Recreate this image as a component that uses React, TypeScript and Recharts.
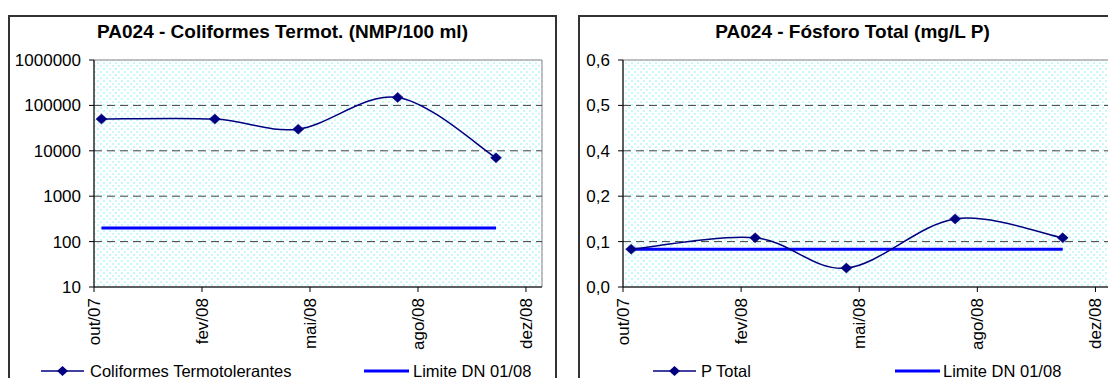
import React from 'react';
import { LineChart, Line, XAxis, YAxis, ReferenceLine, ReferenceArea, Legend } from 'recharts';

// ---------- data ----------
const sampleDates = ['2007-11-02', '2008-02-16', '2008-05-04', '2008-08-05', '2008-11-05'];
const xTickDates = ['2007-10-26', '2008-02-04', '2008-05-15', '2008-08-24', '2008-12-03'];
const xTickLabels = ['out/07', 'fev/08', 'mai/08', 'ago/08', 'dez/08'];
const xAxisEnd = '2008-12-18';

const coliformes = [50000, 50000, 30000, 150000, 7000];
const coliformesLimite = [200, 200, 200, 200, 200];
const coliTicks = [10, 100, 1000, 10000, 100000, 1000000];

const fosforo = [0.1, 0.13, 0.05, 0.18, 0.13];
const fosforoLimite = [0.1, 0.1, 0.1, 0.1, 0.1];
const fosTicks = [0, 0.12, 0.24, 0.36, 0.48, 0.6];

const coliTitle = 'PA024 - Coliformes Termot. (NMP/100 ml)';
const fosTitle = 'PA024 - Fósforo Total (mg/L P)';
const coliSeriesName = 'Coliformes Termotolerantes';
const fosSeriesName = 'P Total';
const limitName = 'Limite DN 01/08';

// ---------- derived ----------
const xTickTimes = xTickDates.map((d) => Date.parse(d));
const xDomain = [xTickTimes[0], Date.parse(xAxisEnd)];
const coliData = sampleDates.map((d, i) => ({ t: Date.parse(d), value: coliformes[i], limite: coliformesLimite[i] }));
const fosData = sampleDates.map((d, i) => ({ t: Date.parse(d), value: fosforo[i], limite: fosforoLimite[i] }));

const FONT = '"Liberation Sans", Arial, sans-serif';
const NAVY = '#000080';
const BLUE = '#0000FF';
const TICK_FS = 17;

// Excel-like smoothed line (Catmull-Rom as cubic Bezier)
const excelCurve: any = (context: any) => {
  let pts: number[][] = [];
  return {
    areaStart() {},
    areaEnd() {},
    lineStart() {
      pts = [];
    },
    point(x: number, y: number) {
      pts.push([+x, +y]);
    },
    lineEnd() {
      const n = pts.length;
      if (!n) return;
      context.moveTo(pts[0][0], pts[0][1]);
      for (let i = 0; i < n - 1; i++) {
        const a = pts[Math.max(0, i - 1)];
        const b = pts[i];
        const c = pts[i + 1];
        const d = pts[Math.min(n - 1, i + 2)];
        context.bezierCurveTo(
          b[0] + (c[0] - a[0]) / 6,
          b[1] + (c[1] - a[1]) / 6,
          c[0] - (d[0] - b[0]) / 6,
          c[1] - (d[1] - b[1]) / 6,
          c[0],
          c[1]
        );
      }
    },
  };
};

const Diamond = (props: any) => {
  const { cx, cy } = props;
  if (cx == null || cy == null) return null;
  return (
    <path
      d={`M${cx},${cy - 5}L${cx + 5.5},${cy}L${cx},${cy + 5}L${cx - 5.5},${cy}Z`}
      fill={NAVY}
      stroke={NAVY}
      strokeWidth={0.5}
    />
  );
};

const DateTick = (props: any) => {
  const { x, y, payload } = props;
  const idx = xTickTimes.indexOf(payload.value);
  const label = idx >= 0 ? xTickLabels[idx] : '';
  return (
    <text
      x={x}
      y={y}
      transform={`rotate(-90, ${x}, ${y})`}
      textAnchor="end"
      dy="0.35em"
      fontSize={TICK_FS}
      fontFamily={FONT}
      fill="#000"
    >
      {label}
    </text>
  );
};

const makeLegend = (name1: string, pos: { l1: number; t1: number; l2: number; t2: number }) => () => (
  <svg width={545} height={20} style={{ display: 'block' }}>
    <line x1={pos.l1} x2={pos.l1 + 43} y1={9} y2={9} stroke={NAVY} strokeWidth={1.5} />
    <path
      d={`M${pos.l1 + 21.5},4L${pos.l1 + 27},9L${pos.l1 + 21.5},14L${pos.l1 + 16},9Z`}
      fill={NAVY}
    />
    <text x={pos.t1} y={14.5} fontSize={16.5} fontFamily={FONT} fill="#000">
      {name1}
    </text>
    <line x1={pos.l2} x2={pos.l2 + 45} y1={9} y2={9} stroke={BLUE} strokeWidth={3} />
    <text x={pos.t2} y={14.5} fontSize={16.5} fontFamily={FONT} fill="#000">
      {limitName}
    </text>
  </svg>
);

const boxStyle: React.CSSProperties = {
  position: 'absolute',
  top: 7,
  width: 549,
  height: 420,
  border: '2px solid #333',
  boxSizing: 'border-box',
  background: '#fff',
};

const titleStyle: React.CSSProperties = {
  position: 'absolute',
  top: 4,
  left: 0,
  width: 545,
  textAlign: 'center',
  fontFamily: FONT,
  fontWeight: 'bold',
  fontSize: 19,
  lineHeight: 'normal',
  color: '#000',
  whiteSpace: 'nowrap',
};

const tickStyle = { fontSize: TICK_FS, fill: '#000', fontFamily: FONT };

export default function App() {
  return (
    <div
      style={{
        position: 'relative',
        width: 1108,
        height: 370,
        overflow: 'hidden',
        background: '#fff',
        fontFamily: FONT,
      }}
    >
      <svg width={0} height={0} style={{ position: 'absolute' }}>
        <defs>
          <pattern id="excelDots" width={6} height={6} patternUnits="userSpaceOnUse">
            <rect width={6} height={6} fill="#ffffff" />
            <rect x={0} y={0} width={2} height={2} fill="#c6f9fa" />
            <rect x={3} y={3} width={2} height={2} fill="#c6f9fa" />
          </pattern>
        </defs>
      </svg>

      {/* Left chart */}
      <div style={{ ...boxStyle, left: 0 }}>
        <LineChart width={545} height={361} data={coliData} margin={{ top: 43, right: 13, left: 0, bottom: 0 }}>
          <XAxis
            dataKey="t"
            type="number"
            domain={xDomain}
            ticks={xTickTimes}
            interval={0}
            tick={<DateTick />}
            tickSize={5}
            tickMargin={6}
            height={71}
            axisLine={{ stroke: '#000' }}
            tickLine={{ stroke: '#000' }}
            allowDataOverflow
          />
          <YAxis
            type="number"
            scale="log"
            domain={[10, 1000000]}
            ticks={coliTicks}
            interval={0}
            allowDataOverflow
            width={84}
            tickSize={5}
            tickMargin={8}
            tick={tickStyle}
            axisLine={{ stroke: '#000' }}
            tickLine={{ stroke: '#000' }}
          />
          <ReferenceArea
            x1={xDomain[0]}
            x2={xDomain[1]}
            y1={10}
            y2={1000000}
            fill="url(#excelDots)"
            fillOpacity={1}
            stroke="#808080"
            strokeWidth={1}
          />
          {coliTicks.slice(1, -1).map((v) => (
            <ReferenceLine key={v} y={v} stroke="#404040" strokeDasharray="8 5" strokeWidth={1} />
          ))}
          <Line
            dataKey="limite"
            name={limitName}
            type="linear"
            stroke={BLUE}
            strokeWidth={3}
            dot={false}
            isAnimationActive={false}
          />
          <Line
            dataKey="value"
            name={coliSeriesName}
            type={excelCurve}
            stroke={NAVY}
            strokeWidth={1.5}
            dot={<Diamond />}
            isAnimationActive={false}
          />
          <Legend
            verticalAlign="bottom"
            content={makeLegend(coliSeriesName, { l1: 31, t1: 80, l2: 354, t2: 403 })}
            wrapperStyle={{ top: 345, left: 0, width: 545, height: 20 }}
          />
        </LineChart>
        <div style={titleStyle}>{coliTitle}</div>
      </div>

      {/* Right chart */}
      <div style={{ ...boxStyle, left: 570 }}>
        <LineChart width={545} height={361} data={fosData} margin={{ top: 43, right: 12, left: 0, bottom: 0 }}>
          <XAxis
            dataKey="t"
            type="number"
            domain={xDomain}
            ticks={xTickTimes}
            interval={0}
            tick={<DateTick />}
            tickSize={5}
            tickMargin={6}
            height={71}
            axisLine={{ stroke: '#000' }}
            tickLine={{ stroke: '#000' }}
            allowDataOverflow
          />
          <YAxis
            type="number"
            domain={[0, 0.6]}
            ticks={fosTicks}
            interval={0}
            allowDataOverflow
            width={43}
            tickSize={5}
            tickMargin={8}
            tick={tickStyle}
            tickFormatter={(v: number) => v.toFixed(1).replace('.', ',')}
            axisLine={{ stroke: '#000' }}
            tickLine={{ stroke: '#000' }}
          />
          <ReferenceArea
            x1={xDomain[0]}
            x2={xDomain[1]}
            y1={0}
            y2={0.6}
            fill="url(#excelDots)"
            fillOpacity={1}
            stroke="#808080"
            strokeWidth={1}
          />
          {fosTicks.slice(1, -1).map((v) => (
            <ReferenceLine key={v} y={v} stroke="#404040" strokeDasharray="8 5" strokeWidth={1} />
          ))}
          <Line
            dataKey="limite"
            name={limitName}
            type="linear"
            stroke={BLUE}
            strokeWidth={3}
            dot={false}
            isAnimationActive={false}
          />
          <Line
            dataKey="value"
            name={fosSeriesName}
            type={excelCurve}
            stroke={NAVY}
            strokeWidth={1.5}
            dot={<Diamond />}
            isAnimationActive={false}
          />
          <Legend
            verticalAlign="bottom"
            content={makeLegend(fosSeriesName, { l1: 73, t1: 121, l2: 315, t2: 363 })}
            wrapperStyle={{ top: 345, left: 0, width: 545, height: 20 }}
          />
        </LineChart>
        <div style={titleStyle}>{fosTitle}</div>
      </div>
    </div>
  );
}
